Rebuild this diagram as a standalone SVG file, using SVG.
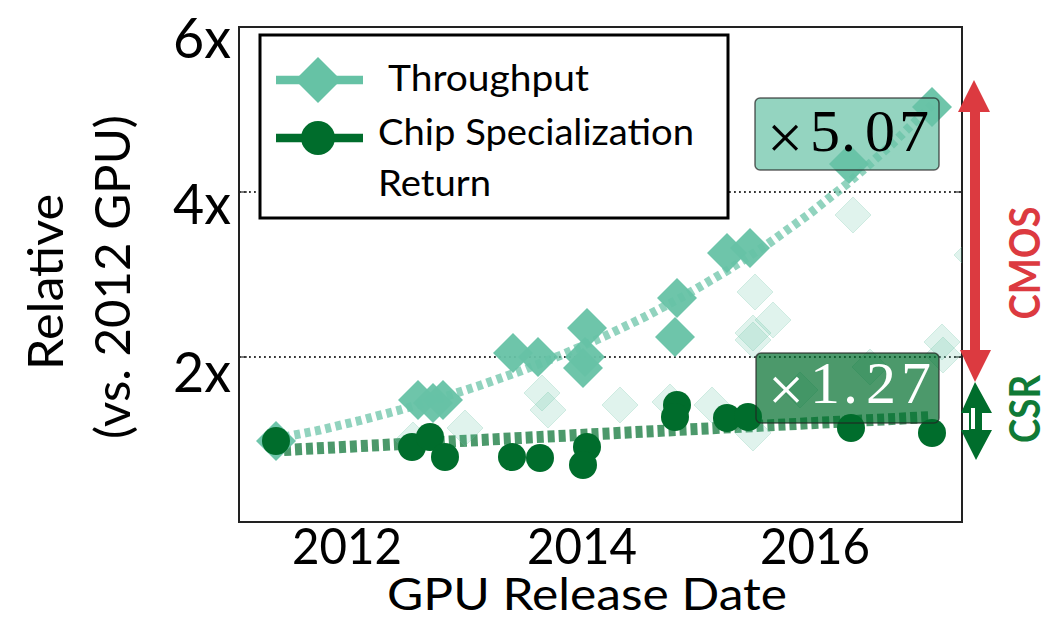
<svg xmlns="http://www.w3.org/2000/svg" width="1053" height="619" viewBox="0 0 1053 619">
<style>
text{font-family:Lato,"Open Sans","Liberation Sans",sans-serif;fill:#000}
.tick{font-size:57px}
.xt{font-size:50px}
.ttl{font-size:48px}
.ttlx{font-size:45px}
.leg{font-size:37px}
.num{font-family:"Liberation Serif","DejaVu Serif",serif;font-size:60px}
.tm{font-size:64px}
.grid{stroke:#333;stroke-width:2;stroke-dasharray:1.8 3.2;fill:none}
.fd{fill:#66c2a5;fill-opacity:0.2;stroke:#66c2a5;stroke-opacity:0.25;stroke-width:1}
.sd{fill:#66c2a5;fill-opacity:0.95}
.ci{fill:#006d2c}
</style>
<defs>
<clipPath id="plot"><rect x="239" y="27" width="723" height="495"/></clipPath>
<path id="dS" d="M0,-20 L20,0 L0,20 L-20,0 Z"/>
<path id="dF" d="M0,-18 L18,0 L0,18 L-18,0 Z"/>
</defs>
<rect width="1053" height="619" fill="#fff"/>

<g id="axes">
<line class="grid" x1="239" y1="192" x2="962" y2="192"/>
<line class="grid" x1="239" y1="357" x2="962" y2="357"/>
<g stroke="#333" stroke-width="1.3">
<line x1="239" y1="192" x2="247" y2="192"/><line x1="239" y1="357" x2="247" y2="357"/>
<line x1="954" y1="192" x2="962" y2="192"/><line x1="954" y1="357" x2="962" y2="357"/>
</g>
<rect x="239" y="27" width="723" height="495" fill="none" stroke="#222" stroke-width="2"/>
<text class="tick" x="231" y="58" text-anchor="end" textLength="58" lengthAdjust="spacingAndGlyphs">6x</text>
<text class="tick" x="231" y="224" text-anchor="end" textLength="58" lengthAdjust="spacingAndGlyphs">4x</text>
<text class="tick" x="231" y="392" text-anchor="end" textLength="58" lengthAdjust="spacingAndGlyphs">2x</text>
<text class="xt" x="347" y="564" text-anchor="middle" textLength="110" lengthAdjust="spacingAndGlyphs">2012</text>
<text class="xt" x="582" y="564" text-anchor="middle" textLength="110" lengthAdjust="spacingAndGlyphs">2014</text>
<text class="xt" x="815" y="564" text-anchor="middle" textLength="110" lengthAdjust="spacingAndGlyphs">2016</text>
<text class="ttlx" x="587" y="610" text-anchor="middle" textLength="400" lengthAdjust="spacingAndGlyphs">GPU Release Date</text>
<text class="ttl" transform="translate(63,282) rotate(-90)" text-anchor="middle" textLength="176" lengthAdjust="spacingAndGlyphs">Relative</text>
<text class="ttl" transform="translate(130,277) rotate(-90)" text-anchor="middle" textLength="324" lengthAdjust="spacingAndGlyphs">(vs. 2012 GPU)</text>
</g>

<g id="connectors" clip-path="url(#plot)" fill="none">
<polyline id="trend-throughput" stroke="#66c2a5" stroke-opacity="0.72" stroke-width="9" stroke-dasharray="6 4.5" points="284,437 317,430.7 358,421 399,410.2 440,398.3 481,385.1 522,370.5 563,354.4 604,336.5 645,316.8 686,294.9 727,270.7 768,243.9 809,214.2 850,181.4 891,145.1 932,105"/>
<line id="trend-csr" stroke="#006d2c" stroke-opacity="0.7" stroke-width="12" stroke-dasharray="7 4" x1="284" y1="450" x2="932" y2="417"/>
</g>

<g id="faded-throughput" clip-path="url(#plot)">
<use href="#dF" class="fd" x="413" y="440"/>
<use href="#dF" class="fd" x="465" y="428"/>
<use href="#dF" class="fd" x="542" y="393"/>
<use href="#dF" class="fd" x="548" y="410"/>
<use href="#dF" class="fd" x="620" y="405"/>
<use href="#dF" class="fd" x="670" y="402"/>
<use href="#dF" class="fd" x="712" y="405"/>
<use href="#dF" class="fd" x="755" y="292"/>
<use href="#dF" class="fd" x="773" y="320"/>
<use href="#dF" class="fd" x="753" y="333"/>
<use href="#dF" class="fd" x="753" y="340"/>
<use href="#dF" class="fd" x="753" y="433"/>
<use href="#dF" class="fd" x="800" y="390"/>
<use href="#dF" class="fd" x="870" y="367"/>
<use href="#dF" class="fd" x="853" y="215"/>
<use href="#dF" class="fd" x="942" y="342"/>
<use href="#dF" class="fd" x="943" y="355"/>
<use href="#dF" class="fd" x="972" y="255"/>
</g>

<g id="throughput" clip-path="url(#plot)">
<use href="#dS" class="sd" x="276" y="441"/>
<use href="#dS" class="sd" x="418" y="400"/>
<use href="#dS" class="sd" x="433" y="403"/>
<use href="#dS" class="sd" x="443" y="400"/>
<use href="#dS" class="sd" x="513" y="353"/>
<use href="#dS" class="sd" x="538" y="357"/>
<use href="#dS" class="sd" x="587" y="328"/>
<use href="#dS" class="sd" x="585" y="357"/>
<use href="#dS" class="sd" x="583" y="368"/>
<use href="#dS" class="sd" x="677" y="298"/>
<use href="#dS" class="sd" x="675" y="337"/>
<use href="#dS" class="sd" x="727" y="253"/>
<use href="#dS" class="sd" x="750" y="248"/>
<use href="#dS" class="sd" x="849" y="164"/>
<use href="#dS" class="sd" x="932" y="107"/>
</g>

<g id="csr" clip-path="url(#plot)">
<circle class="ci" cx="276" cy="441" r="14"/>
<circle class="ci" cx="412" cy="447" r="14"/>
<circle class="ci" cx="430" cy="437" r="14"/>
<circle class="ci" cx="445" cy="457" r="14"/>
<circle class="ci" cx="512" cy="457" r="14"/>
<circle class="ci" cx="540" cy="458" r="14"/>
<circle class="ci" cx="587" cy="447" r="14"/>
<circle class="ci" cx="583" cy="465" r="14"/>
<circle class="ci" cx="677" cy="405" r="14"/>
<circle class="ci" cx="675" cy="417" r="14"/>
<circle class="ci" cx="727" cy="418" r="14"/>
<circle class="ci" cx="748" cy="417" r="14"/>
<circle class="ci" cx="851" cy="428" r="14"/>
<circle class="ci" cx="932" cy="433" r="14"/>
</g>

<g id="label-507">
<rect x="755" y="98" width="184" height="72" rx="5" fill="#66c2a5" fill-opacity="0.7" stroke="#222" stroke-opacity="0.7" stroke-width="1.5"/>
<text class="num"><tspan class="tm" x="767" y="159">×</tspan><tspan x="810" y="151">5</tspan><tspan x="841" y="151">.</tspan><tspan x="865" y="151">0</tspan><tspan x="899" y="151">7</tspan></text>
</g>

<g id="label-127">
<rect x="756" y="353" width="183" height="70" rx="5" fill="#006d2c" fill-opacity="0.7" stroke="#222" stroke-opacity="0.7" stroke-width="1.5"/>
<text class="num" style="fill:#fff"><tspan class="tm" x="768" y="411">×</tspan><tspan x="810" y="403">1</tspan><tspan x="843" y="403">.</tspan><tspan x="866" y="403">2</tspan><tspan x="901" y="403">7</tspan></text>
</g>

<g id="legend">
<rect x="260" y="35" width="468" height="183" fill="#fff" stroke="#000" stroke-width="3"/>
<line x1="276" y1="80" x2="363" y2="80" stroke="#66c2a5" stroke-width="8.5"/>
<path d="M318,57 L341,80 L318,103 L295,80 Z" fill="#66c2a5"/>
<line x1="276" y1="138" x2="363" y2="138" stroke="#006d2c" stroke-width="8.5"/>
<circle cx="318" cy="138" r="17" fill="#006d2c"/>
<text class="leg" x="388" y="91" textLength="201" lengthAdjust="spacingAndGlyphs">Throughput</text>
<text class="leg" x="378" y="145" textLength="316" lengthAdjust="spacingAndGlyphs">Chip Specialization</text>
<text class="leg" x="378" y="196" textLength="113" lengthAdjust="spacingAndGlyphs">Return</text>
</g>

<g id="cmos-arrow">
<path d="M974,80 L990,112 L980,112 L980,350 L991,350 L975,382 L960,350 L970,350 L970,112 L958,112 Z" fill="#dc3a40"/>
<text transform="translate(1040,263) rotate(-90)" text-anchor="middle" font-size="42" font-weight="bold" style="fill:#dc3a40" textLength="113" lengthAdjust="spacingAndGlyphs">CMOS</text>
</g>

<g id="csr-arrow">
<path d="M975,382 L992,413 L982,413 L982,430 L992,430 L976,460 L961,430 L969,430 L969,413 L961,413 Z" fill="#006d2c"/>
<rect x="971" y="408" width="4" height="21" fill="#fff"/>
<text transform="translate(1040,409) rotate(-90)" text-anchor="middle" font-size="42" font-weight="bold" style="fill:#107a36" textLength="68" lengthAdjust="spacingAndGlyphs">CSR</text>
</g>
</svg>
